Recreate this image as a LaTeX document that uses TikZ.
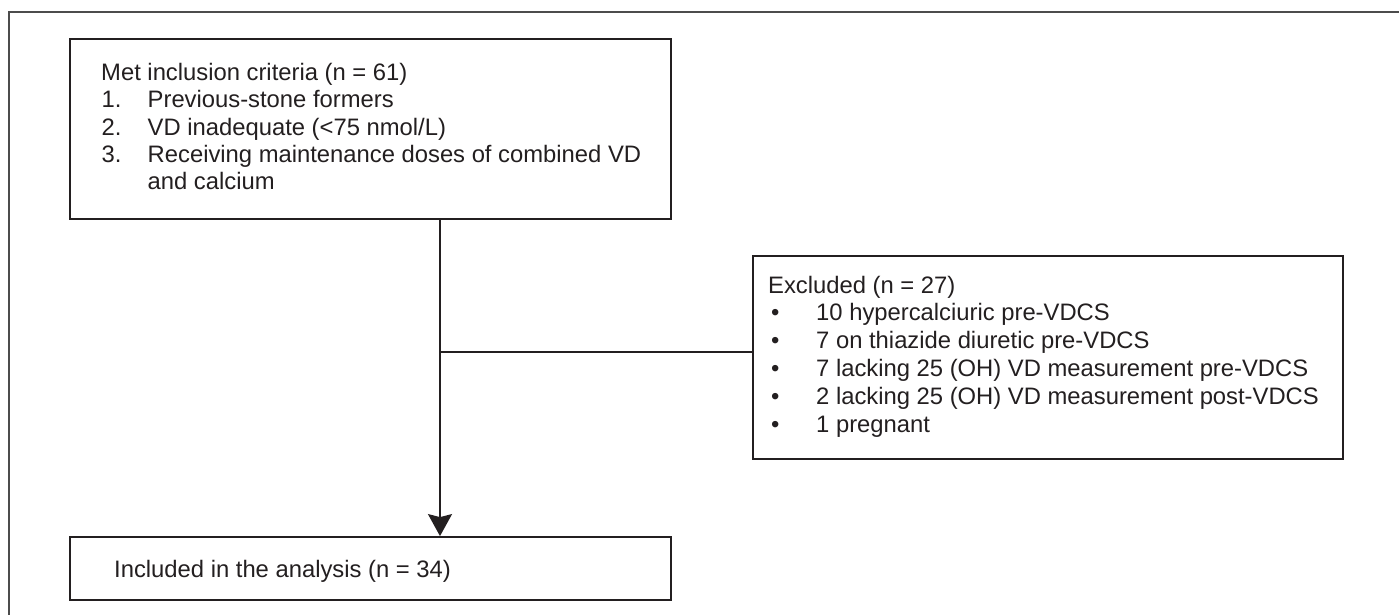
\documentclass[tikz,border=0pt]{standalone}
\usepackage{fontspec}
\setmainfont{Liberation Sans}
\usetikzlibrary{arrows.meta}
\definecolor{ink}{HTML}{231F20}
\begin{document}
\begin{tikzpicture}[x=1pt,y=-1pt,
  box/.style={draw=ink, line width=1.8pt, rectangle, inner sep=0pt},
  txt/.style={anchor=base west, inner sep=0pt, text=ink, font=\fontsize{23.8}{27.5}\selectfont},
  conn/.style={draw=ink, line width=1.8pt},
  frame/.style={draw=black!70, line width=1.6pt}]
\useasboundingbox (0,0) rectangle (1399,614);
\fill[white] (0,0) rectangle (1399,614);
% outer frame (open to the right and bottom)
\draw[frame] (9,620) -- (9,12) -- (1405,12);
% boxes
\node[box, minimum width=601pt, minimum height=180pt] (top) at (370.5,129) {};
\node[box, minimum width=590pt, minimum height=203pt] (excl) at (1048,357.5) {};
\node[box, minimum width=601pt, minimum height=63pt] (incl) at (370.5,568.5) {};
% texts of the top box
\node[txt] (t0) at (101,80.7) {Met inclusion criteria (n = 61)};
\node[txt] (n1) at (101.5,107.8) {1.};
\node[txt] (t1) at (147.5,107.8) {Previous-stone formers};
\node[txt] (n2) at (101.5,135) {2.};
\node[txt] (t2) at (147.5,135) {VD inadequate (<75 nmol/L)};
\node[txt] (n3) at (101.5,162.3) {3.};
\node[txt] (t3) at (147.5,162.3) {Receiving maintenance doses of combined VD};
\node[txt] (t4) at (147.5,189.8) {and calcium};
% texts of the excluded box
\node[txt] (e0) at (768,293) {Excluded (n = 27)};
\node[txt] (b1) at (771,320.5) {•};
\node[txt] (e1) at (816,320.5) {10 hypercalciuric pre-VDCS};
\node[txt] (b2) at (771,348.5) {•};
\node[txt] (e2) at (816,348.5) {7 on thiazide diuretic pre-VDCS};
\node[txt] (b3) at (771,376.5) {•};
\node[txt] (e3) at (816,376.5) {7 lacking 25 (OH) VD measurement pre-VDCS};
\node[txt] (b4) at (771,404.5) {•};
\node[txt] (e4) at (816,404.5) {2 lacking 25 (OH) VD measurement post-VDCS};
\node[txt] (b5) at (771,432.5) {•};
\node[txt] (e5) at (816,432.5) {1 pregnant};
% text of the bottom box
\node[txt] (i0) at (114,577) {Included in the analysis (n = 34)};
% connectors
\coordinate (j) at (440,352);
\draw[conn, -{Stealth[length=22pt, width=24pt, inset=3pt]}] (top.south -| j) -- (incl.north -| j);
\draw[conn] (j) -- (j -| excl.west);
\end{tikzpicture}
\end{document}
